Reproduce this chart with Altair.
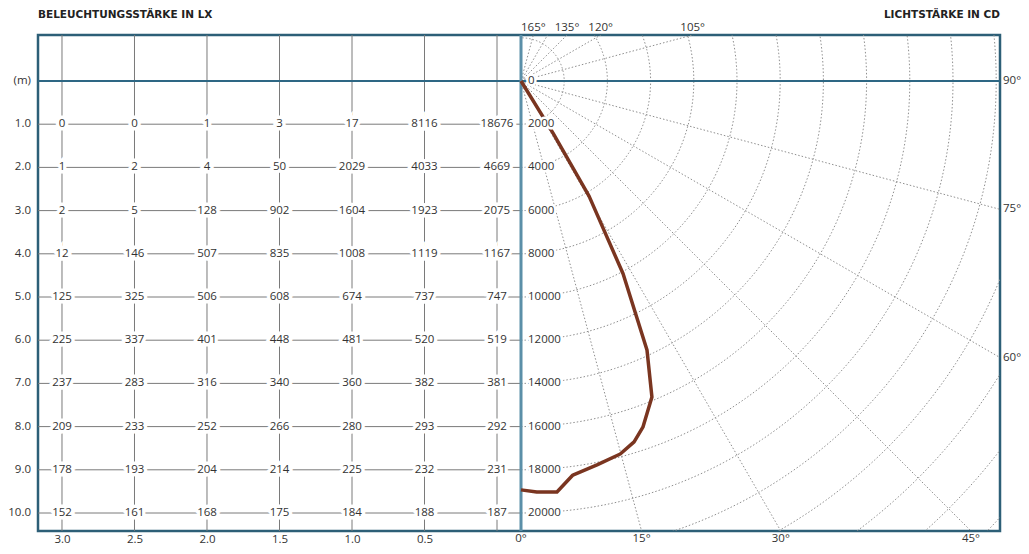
import altair as alt
import pandas as pd
import numpy as np

# ---------------- data ----------------
distances = [3.0, 2.5, 2.0, 1.5, 1.0, 0.5, 0.0]          # horizontal distance (m)
heights = [1.0, 2.0, 3.0, 4.0, 5.0, 6.0, 7.0, 8.0, 9.0, 10.0]  # mounting distance (m)
lux_rows = [
    [0, 0, 1, 3, 17, 8116, 18676],
    [1, 2, 4, 50, 2029, 4033, 4669],
    [2, 5, 128, 902, 1604, 1923, 2075],
    [12, 146, 507, 835, 1008, 1119, 1167],
    [125, 325, 506, 608, 674, 737, 747],
    [225, 337, 401, 448, 481, 520, 519],
    [237, 283, 316, 340, 360, 382, 381],
    [209, 233, 252, 266, 280, 293, 292],
    [178, 193, 204, 214, 225, 232, 231],
    [152, 161, 168, 175, 184, 188, 187],
]
height_labels = ["(m)", "1.0", "2.0", "3.0", "4.0", "5.0", "6.0", "7.0", "8.0", "9.0", "10.0"]
bottom_ticks = [3.0, 2.5, 2.0, 1.5, 1.0, 0.5]
ring_cd = list(range(2000, 32001, 2000))
radial_labels = list(range(0, 20001, 2000))
spoke_angles = [15, 30, 45, 60, 75, 105, 120, 135, 150, 165]
angle_labels = [0, 15, 30, 45, 60, 75, 90, 105, 120, 135, 165]
curve_angle = [35.0, 31.6, 30.6, 27.9, 25.1, 22.5, 19.4, 17.4, 14.9, 11.2, 7.5, 5.0, 2.2, 0.0]
curve_cd = [0, 2830, 6190, 10100, 13750, 15840, 16990, 17510, 17870, 18120, 18400, 19100, 19040, 18930]

# ---------------- layout constants ----------------
W, H = 962, 496
PX_PER_UNIT = 43.2
ORIGIN_Y = 46.0                        # origin offset below frame top (px)
ORIGIN_X = 483.0                       # origin offset right of frame left (px)
Y0 = -ORIGIN_Y / PX_PER_UNIT           # top of frame (m, 2000 cd = 1 m)
Y1 = (H - ORIGIN_Y) / PX_PER_UNIT      # bottom of frame
XT0, XT1 = -0.1655, 3.1655             # table horizontal domain (m)
XP0 = -ORIGIN_X / PX_PER_UNIT          # polar horizontal domain
XP1 = (W - ORIGIN_X) / PX_PER_UNIT
CD_PER_UNIT = 2000.0

FONT = "Open Sans"
FS = 11.5
TXT = "#333333"
GRID = "#7a7a7a"
DOT = "#8f8f8f"

ys = alt.Scale(domain=[Y0, Y1], reverse=True, nice=False, zero=False)
xt = alt.Scale(domain=[XT0, XT1], range=[ORIGIN_X, 0], nice=False, zero=False)
xp = alt.Scale(domain=[XP0, XP1], range=[0, W], nice=False, zero=False)

# ---------------- derived tables ----------------
ring_rows = []
for r in ring_cd:
    for i, a in enumerate(np.arange(0, 180.5, 1.0)):
        t = np.radians(a)
        ring_rows.append({"ring": r, "i": i,
                          "x": r * np.sin(t) / CD_PER_UNIT,
                          "y": r * np.cos(t) / CD_PER_UNIT})
rings = pd.DataFrame(ring_rows)

spoke_rows = []
for a in spoke_angles:
    t = np.radians(a)
    for i, r in enumerate([0, 40000]):
        spoke_rows.append({"spoke": a, "i": i,
                           "x": r * np.sin(t) / CD_PER_UNIT,
                           "y": r * np.cos(t) / CD_PER_UNIT})
spokes = pd.DataFrame(spoke_rows)

cells = pd.DataFrame([
    {"dist": d, "h": h, "val": str(v)}
    for h, row in zip(heights, lux_rows) for d, v in zip(distances, row)
])
rowlines = pd.DataFrame({"h": heights, "xa": XT1, "xb": XT0})
cols = pd.DataFrame({"dist": distances})
ylabels = pd.DataFrame({"h": [0.0] + heights, "xa": XT1, "label": height_labels})

curve = pd.DataFrame({"i": range(len(curve_cd)), "ang": curve_angle, "cd": curve_cd})

rlab = pd.DataFrame({"x": [0.0] * len(radial_labels),
                     "y": [c / CD_PER_UNIT for c in radial_labels],
                     "label": [str(c) for c in radial_labels]})

alab_rows = []
for a in angle_labels:
    lab = f"{a}°"
    if a <= 45:
        alab_rows.append({"side": "bottom", "x": Y1 * np.tan(np.radians(a)), "y": Y1, "label": lab})
    elif a <= 90:
        yv = 0.0 if a == 90 else XP1 / np.tan(np.radians(a))
        alab_rows.append({"side": "right", "x": XP1, "y": yv, "label": lab})
    else:
        alab_rows.append({"side": "top", "x": -Y0 * np.tan(np.radians(180 - a)), "y": Y0, "label": lab})
alab = pd.DataFrame(alab_rows)

titles = pd.DataFrame({"label": ["BELEUCHTUNGSSTÄRKE IN LX", "LICHTSTÄRKE IN CD"]})

# ---------------- layers ----------------
XP = lambda f: alt.X(f, scale=xp, axis=None)
XT = lambda f: alt.X(f, scale=xt, axis=None)
YY = lambda f: alt.Y(f, scale=ys, axis=None)

ring_layer = alt.Chart(rings).mark_line(
    color=DOT, strokeWidth=1, strokeDash=[1.5, 2], clip=True
).encode(x=XP("x:Q"), y=YY("y:Q"), detail="ring:N", order="i:Q")

spoke_layer = alt.Chart(spokes).mark_line(
    color=DOT, strokeWidth=1, strokeDash=[1.5, 2], clip=True
).encode(x=XP("x:Q"), y=YY("y:Q"), detail="spoke:N", order="i:Q")

row_layer = alt.Chart(rowlines).mark_rule(color=GRID, strokeWidth=1).encode(
    x=XT("xa:Q"), x2="xb:Q", y=YY("h:Q")
)

col_layer = alt.Chart(cols).mark_rule(color=GRID, strokeWidth=1).encode(
    x=alt.X("dist:Q", scale=xt,
            axis=alt.Axis(values=bottom_ticks, format=".1f", orient="bottom",
                          ticks=False, domain=False, grid=False, labelPadding=2,
                          labelFont=FONT, labelFontSize=FS, labelColor=TXT, title=None))
)

ylab_layer = alt.Chart(ylabels).mark_text(
    font=FONT, fontSize=FS, color=TXT, align="right", baseline="middle", dx=-7
).encode(x=XT("xa:Q"), y=YY("h:Q"), text="label:N")

zero_layer = alt.Chart(pd.DataFrame({"y": [0.0]})).mark_rule(
    color="#2e6784", strokeWidth=2
).encode(y=YY("y:Q"))

divider_layer = alt.Chart(pd.DataFrame({"x": [0.0]})).mark_rule(
    color="#5b8fa8", strokeWidth=3
).encode(x=XP("x:Q"))

curve_layer = alt.Chart(curve).transform_calculate(
    px=f"datum.cd * sin(datum.ang * PI / 180) / {CD_PER_UNIT}",
    py=f"datum.cd * cos(datum.ang * PI / 180) / {CD_PER_UNIT}",
).mark_line(color="#7a3520", strokeWidth=3.5, strokeJoin="round", clip=True).encode(
    x=XP("px:Q"), y=YY("py:Q"), order="i:Q"
)

cell_halo = alt.Chart(cells).mark_text(
    font=FONT, fontSize=FS, color="white", stroke="white", strokeWidth=7,
    align="center", baseline="middle"
).encode(x=XT("dist:Q"), y=YY("h:Q"), text="val:N")
cell_text = alt.Chart(cells).mark_text(
    font=FONT, fontSize=FS, color=TXT, align="center", baseline="middle"
).encode(x=XT("dist:Q"), y=YY("h:Q"), text="val:N")

rlab_halo = alt.Chart(rlab).mark_text(
    font=FONT, fontSize=FS, color="white", stroke="white", strokeWidth=5,
    align="left", baseline="middle", dx=7
).encode(x=XP("x:Q"), y=YY("y:Q"), text="label:N")
rlab_text = alt.Chart(rlab).mark_text(
    font=FONT, fontSize=FS, color=TXT, align="left", baseline="middle", dx=7
).encode(x=XP("x:Q"), y=YY("y:Q"), text="label:N")

alab_bottom = alt.Chart(alab).transform_filter("datum.side == 'bottom'").mark_text(
    font=FONT, fontSize=FS, color=TXT, align="center", baseline="top", dy=2
).encode(x=XP("x:Q"), y=YY("y:Q"), text="label:N")
alab_right = alt.Chart(alab).transform_filter("datum.side == 'right'").mark_text(
    font=FONT, fontSize=FS, color=TXT, align="left", baseline="middle", dx=3
).encode(x=XP("x:Q"), y=YY("y:Q"), text="label:N")
alab_top = alt.Chart(alab).transform_filter("datum.side == 'top'").mark_text(
    font=FONT, fontSize=FS, color=TXT, align="center", baseline="bottom", dy=-2
).encode(x=XP("x:Q"), y=YY("y:Q"), text="label:N")

title_style = dict(font="DejaVu Sans", fontWeight="bold", fontSize=10.5,
                   color="#222222", baseline="alphabetic")
title_left = alt.Chart(titles).transform_filter(
    "datum.label == 'BELEUCHTUNGSSTÄRKE IN LX'"
).mark_text(align="left", **title_style).encode(
    x=alt.value(0), y=alt.value(-17), text="label:N")
title_right = alt.Chart(titles).transform_filter(
    "datum.label == 'LICHTSTÄRKE IN CD'"
).mark_text(align="right", **title_style).encode(
    x=alt.value(W), y=alt.value(-17), text="label:N")

chart = alt.layer(
    ring_layer, spoke_layer, row_layer, col_layer, ylab_layer, zero_layer, divider_layer,
    curve_layer, cell_halo, cell_text, rlab_halo, rlab_text,
    alab_bottom, alab_right, alab_top, title_left, title_right
).resolve_scale(x="independent").properties(
    width=W, height=H,
    autosize=alt.AutoSizeParams(type="none"),
    padding={"left": 30, "top": 27, "right": 21, "bottom": 15},
    background="white",
).configure_view(stroke="#2d5f77", strokeWidth=2.5, fill="white")

chart.save("out.html", embed_options={"renderer": "svg", "actions": False})
